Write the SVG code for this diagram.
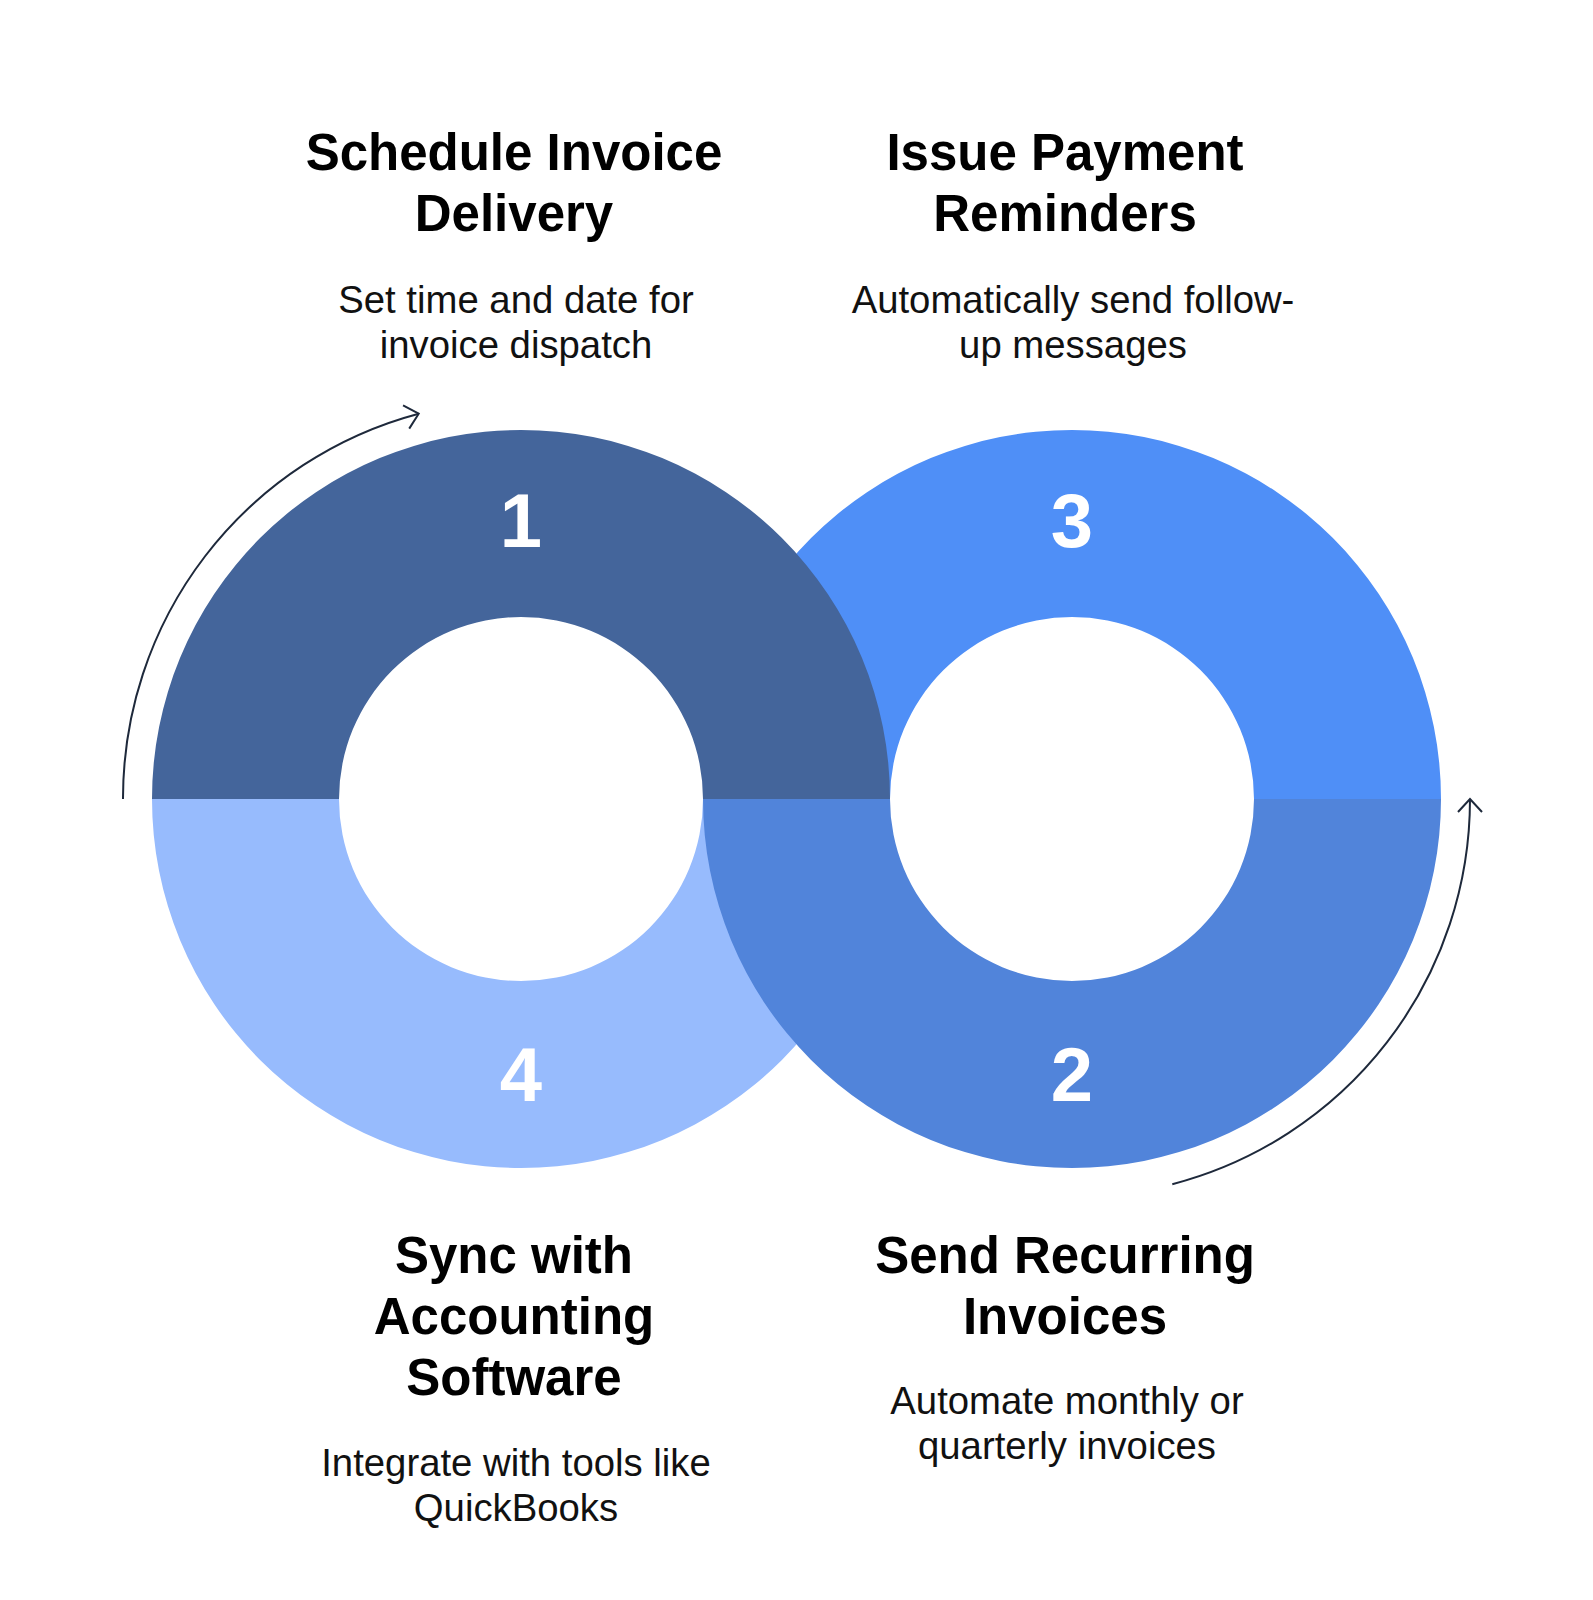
<svg xmlns="http://www.w3.org/2000/svg" width="1593" height="1600" viewBox="0 0 1593 1600">
  <style>
    .title { font-family: "Liberation Sans", Arial, sans-serif; font-weight: bold; font-size: 51px; fill: #000000; text-anchor: middle; }
    .desc { font-family: "Liberation Sans", Arial, sans-serif; font-size: 38.3px; fill: #111111; text-anchor: middle; }
    .num { font-family: "Liberation Sans", Arial, sans-serif; font-weight: bold; font-size: 76px; fill: #FFFFFF; text-anchor: middle; }
    .flow { fill: none; stroke: #1E293B; stroke-width: 2; }
  </style>
  <defs>
    <marker id="chev" markerUnits="userSpaceOnUse" markerWidth="40" markerHeight="40" viewBox="-20 -20 40 40" refX="0" refY="0" orient="auto">
      <path d="M -13 -12 L 0 0 L -13 12" fill="none" stroke="#1E293B" stroke-width="2"/>
    </marker>
  </defs>
  <rect width="1593" height="1600" fill="#FFFFFF"/>

  <g id="node-3">
    <path d="M 703 799 A 369 369 0 0 1 1441 799 L 1254 799 A 182 182 0 0 0 890 799 Z" fill="#4F8FF7"/>
    <text class="num" x="1072" y="547">3</text>
  </g>
  <g id="node-4">
    <path d="M 152 799 A 369 369 0 0 0 890 799 L 703 799 A 182 182 0 0 1 339 799 Z" fill="#97BBFD"/>
    <text class="num" x="521" y="1101">4</text>
  </g>
  <g id="node-1">
    <path d="M 152 799 A 369 369 0 0 1 890 799 L 703 799 A 182 182 0 0 0 339 799 Z" fill="#44659B"/>
    <text class="num" x="521" y="547">1</text>
  </g>
  <g id="node-2">
    <path d="M 703 799 A 369 369 0 0 0 1441 799 L 1254 799 A 182 182 0 0 1 890 799 Z" fill="#5184DA"/>
    <text class="num" x="1072" y="1101">2</text>
  </g>

  <g id="connectors">
    <path class="flow" d="M 123 799 A 398 398 0 0 1 418.7 413.7" marker-end="url(#chev)"/>
    <path class="flow" d="M 1172.3 1184.2 A 398 398 0 0 0 1470 799" marker-end="url(#chev)"/>
  </g>

  <g id="label-1">
    <text class="title" x="514" y="170">Schedule Invoice</text>
    <text class="title" x="514" y="231">Delivery</text>
    <text class="desc" x="516" y="313">Set time and date for</text>
    <text class="desc" x="516" y="358">invoice dispatch</text>
  </g>
  <g id="label-3">
    <text class="title" x="1065" y="170">Issue Payment</text>
    <text class="title" x="1065" y="231">Reminders</text>
    <text class="desc" x="1073" y="313">Automatically send follow-</text>
    <text class="desc" x="1073" y="358">up messages</text>
  </g>
  <g id="label-4">
    <text class="title" x="514" y="1273">Sync with</text>
    <text class="title" x="514" y="1334">Accounting</text>
    <text class="title" x="514" y="1395">Software</text>
    <text class="desc" x="516" y="1476">Integrate with tools like</text>
    <text class="desc" x="516" y="1521">QuickBooks</text>
  </g>
  <g id="label-2">
    <text class="title" x="1065" y="1273">Send Recurring</text>
    <text class="title" x="1065" y="1334">Invoices</text>
    <text class="desc" x="1067" y="1414">Automate monthly or</text>
    <text class="desc" x="1067" y="1459">quarterly invoices</text>
  </g>
</svg>
